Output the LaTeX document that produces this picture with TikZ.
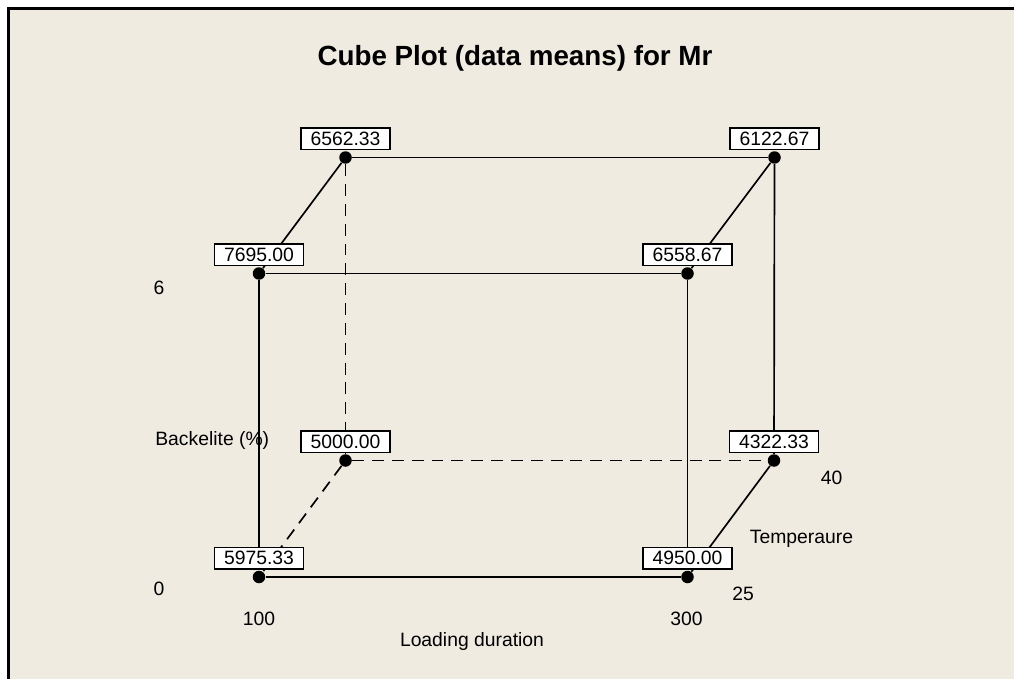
\documentclass[tikz,border=0pt]{standalone}
\usepackage{fontspec}
\setmainfont{Liberation Sans}
\usetikzlibrary{positioning}
\definecolor{panel}{RGB}{239,235,225}

\begin{document}
\begin{tikzpicture}[
  x=0.02cm,y=-0.02cm,
  corner/.style={circle,fill=black,inner sep=0pt,minimum size=0.25cm},
  mean/.style={rectangle,draw,fill=white,line width=0.7pt,
    font=\fontsize{11}{13}\selectfont,inner xsep=5.4pt,inner ysep=0pt,minimum height=12.3pt},
  edge/.style={line width=0.95pt},
  hidden/.style={edge,dash pattern=on 6.8pt off 4.5pt},
  axis/.style={font=\fontsize{11}{13}\selectfont,anchor=base,inner sep=0pt},
  heading/.style={font=\fontsize{15.8}{18}\selectfont\bfseries,anchor=base,inner sep=0pt}
]
% panel and frame
\useasboundingbox (0,0) rectangle (1014,679);
\fill[white] (0,0) rectangle (1014,679);
\fill[panel] (8.5,8.5) rectangle (1014,679);
\draw[line width=1.3pt] (8.5,679) -- (8.5,8.5) -- (1014,8.5);

\node[heading] (title) at (515,66) {Cube Plot (data means) for Mr};

% cube corners
\node[corner] (fbl) at (259,577) {};
\node[corner] (fbr) at (687.5,577) {};
\node[corner] (ftl) at (259,273.5) {};
\node[corner] (ftr) at (687.5,273.5) {};
\node[corner] (bbl) at (345.5,460.5) {};
\node[corner] (bbr) at (774,460.5) {};
\node[corner] (btl) at (345.5,157.5) {};
\node[corner] (btr) at (774.5,157.5) {};

% visible edges
\draw[edge] (fbl) -- (fbr);
\draw[edge] (fbl) -- (ftl);
\draw[edge] (ftl) -- (ftr);
\draw[edge] (ftr) -- (fbr);
\draw[edge] (ftl) -- (btl);
\draw[edge] (ftr) -- (btr);
\draw[edge] (btl) -- (btr);
\draw[edge] (btr) -- (bbr);
\draw[edge] (bbr) -- (fbr);
% hidden edges
\draw[hidden] (btl) -- (bbl);
\draw[hidden] (bbl) -- (bbr);
\draw[hidden] (bbl) -- (fbl);

% means
\node[mean,above=0.4pt of fbl] (m-fbl) {5975.33};
\node[mean,above=0.4pt of fbr] (m-fbr) {4950.00};
\node[mean,above=0.4pt of ftl] (m-ftl) {7695.00};
\node[mean,above=0.4pt of ftr] (m-ftr) {6558.67};
\node[mean,above=0.4pt of bbl] (m-bbl) {5000.00};
\node[mean,above=0.4pt of bbr] (m-bbr) {4322.33};
\node[mean,above=0.4pt of btl] (m-btl) {6562.33};
\node[mean,above=0.4pt of btr] (m-btr) {6122.67};

% factor levels
\node[axis] (b-hi) at (159,294) {6};
\node[axis] (b-lo) at (159,595) {0};
\node[axis,anchor=base west] (b-name) at (155,445) {Backelite (\%)};
\node[axis] (d-lo) at (259,625) {100};
\node[axis] (d-hi) at (686.5,625) {300};
\node[axis] (d-name) at (472,646) {Loading duration};
\node[axis] (t-lo) at (743,600) {25};
\node[axis] (t-hi) at (831.5,484) {40};
\node[axis] (t-name) at (801.5,543) {Temperaure};
\end{tikzpicture}
\end{document}
